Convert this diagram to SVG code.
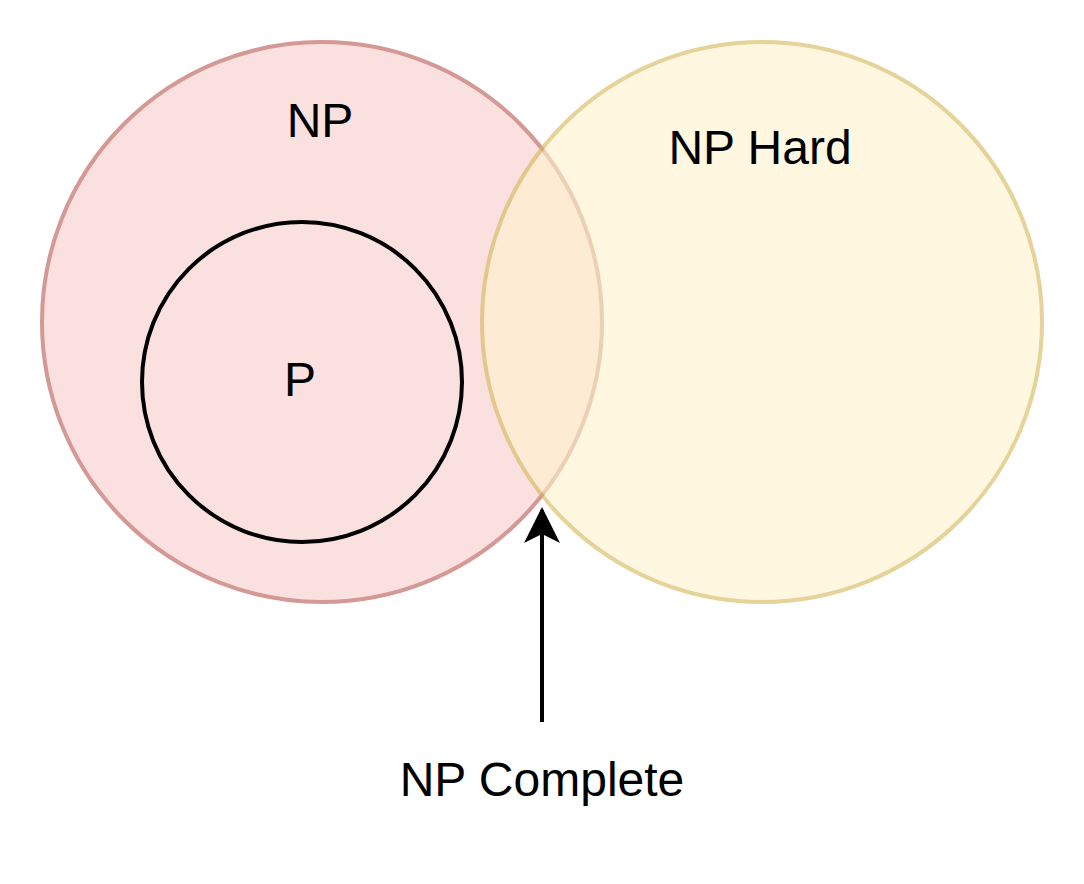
<svg xmlns="http://www.w3.org/2000/svg" width="1084" height="884" viewBox="0 0 1084 884">
<style>
text{font-family:"Liberation Sans",Arial,sans-serif;font-size:48px;fill:#000;text-anchor:middle}
</style>
<defs><marker id="ah" markerWidth="10" markerHeight="10" refX="9" refY="5" orient="auto" markerUnits="userSpaceOnUse" viewBox="0 0 10 10"><path d="M0,0 L10,5 L0,10 L2.5,5 Z" fill="#000"/></marker></defs>
<rect width="1084" height="884" fill="#fff"/>
<g id="np"><circle cx="322" cy="322" r="280" fill="#f8cecc" stroke="#b85450" stroke-width="4" opacity="0.6"/><text x="320" y="137">NP</text></g>
<g id="nphard"><circle cx="762" cy="322" r="280" fill="#fff2cc" stroke="#d6b656" stroke-width="4" opacity="0.6"/><text x="760" y="164">NP Hard</text></g>
<g id="p"><circle cx="302" cy="382" r="160" fill="none" stroke="#000" stroke-width="4"/><text x="300" y="396">P</text></g>
<g id="connectors"><line x1="542" y1="722" x2="542" y2="510" stroke="#000" stroke-width="4"/><path d="M542,507 L560,543 L542,534 L524,543 Z" fill="#000"/></g>
<g id="npc"><text x="542" y="796">NP Complete</text></g>
</svg>
